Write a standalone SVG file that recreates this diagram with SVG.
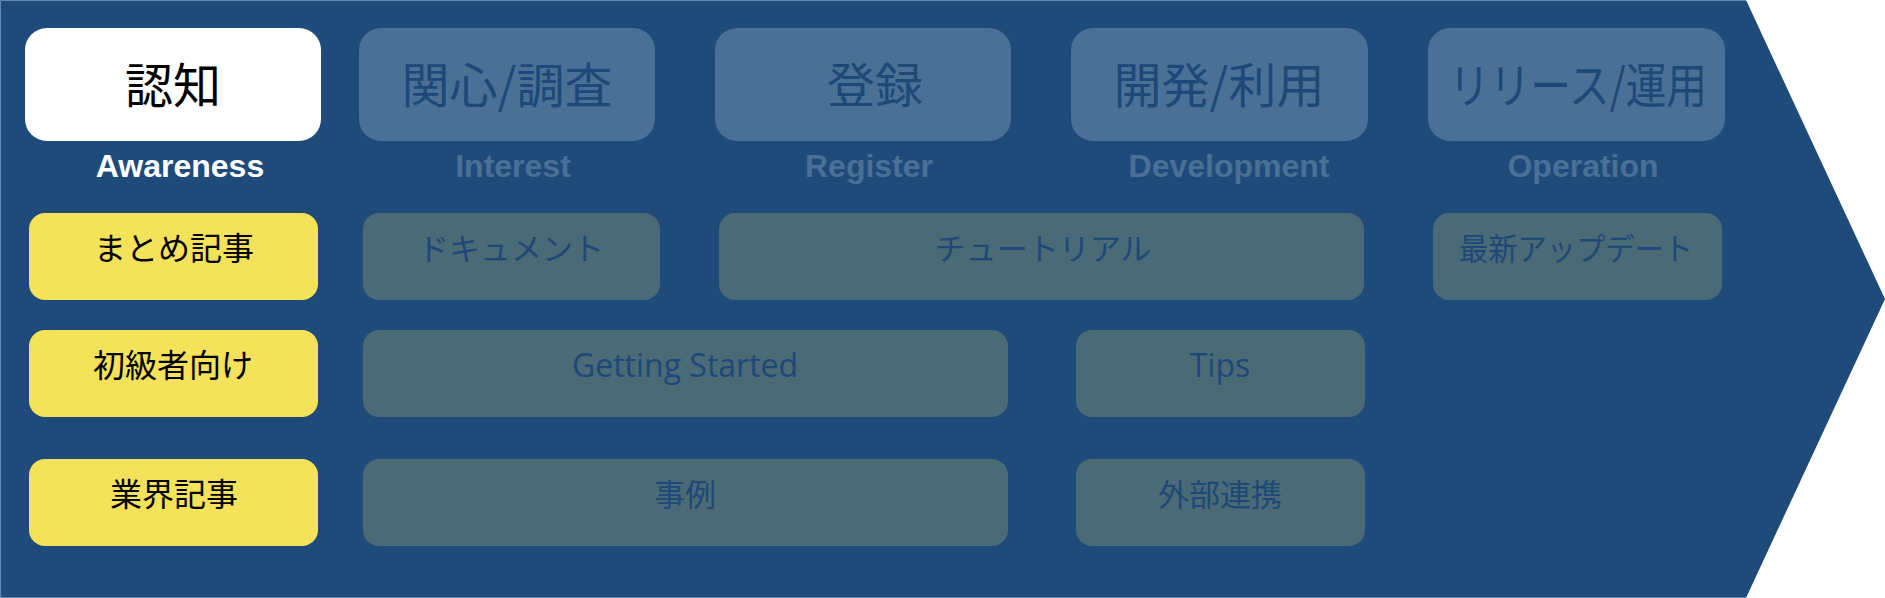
<svg xmlns="http://www.w3.org/2000/svg" width="1885" height="598" viewBox="0 0 1885 598">
  <style>
    .phase { fill: #4a7096; }
    .phase-active { fill: #ffffff; }
    .row { fill: #f5e25b; }
    .cell { fill: #4a6a75; }
    .t-phase { font-family: "Noto Sans CJK JP", "Noto Sans", sans-serif; font-size: 48px; text-anchor: middle; fill: #1e4878; }
    .t-phase-active { fill: #000000; }
    .t-label { font-family: "Liberation Sans", Arial, sans-serif; font-weight: bold; font-size: 32px; text-anchor: middle; fill: #4a7096; }
    .t-label-active { fill: #ffffff; }
    .t-row { font-family: "Noto Sans CJK JP", sans-serif; font-size: 32px; text-anchor: middle; fill: #000000; }
    .t-cell { font-family: "Noto Sans CJK JP", sans-serif; font-size: 31px; text-anchor: middle; fill: #1e4878; }
    .t-cell-latin { font-family: "Open Sans", "Noto Sans CJK JP", sans-serif; font-size: 32px; text-anchor: middle; fill: #1e4878; }
  </style>

  <g id="background">
    <polygon points="0,0 1746,0 1885,299 1746,598 0,598" fill="#1f4b7b"/>
    <polyline points="1746,0.5 0.5,0.5 0.5,597.5 1746,597.5" fill="none" stroke="#6589b2" stroke-width="1"/>
  </g>

  <g id="phase-awareness">
    <rect class="phase-active" x="25" y="28" width="296" height="113" rx="22"/>
    <text class="t-phase t-phase-active" x="173" y="103">認知</text>
    <text class="t-label t-label-active" x="180" y="177">Awareness</text>
  </g>
  <g id="phase-interest">
    <rect class="phase" x="359" y="28" width="296" height="113" rx="22"/>
    <text class="t-phase" x="507" y="103">関心/調査</text>
    <text class="t-label" x="513" y="177">Interest</text>
  </g>
  <g id="phase-register">
    <rect class="phase" x="715" y="28" width="296" height="113" rx="22"/>
    <text class="t-phase" x="875" y="103">登録</text>
    <text class="t-label" x="869" y="177">Register</text>
  </g>
  <g id="phase-development">
    <rect class="phase" x="1071" y="28" width="297" height="113" rx="22"/>
    <text class="t-phase" x="1219" y="103">開発/利用</text>
    <text class="t-label" x="1229" y="177">Development</text>
  </g>
  <g id="phase-operation">
    <rect class="phase" x="1428" y="28" width="297" height="113" rx="22"/>
    <text class="t-phase" x="1578" y="103" textLength="258" lengthAdjust="spacingAndGlyphs">リリース/運用</text>
    <text class="t-label" x="1583" y="177">Operation</text>
  </g>

  <g id="row-matome">
    <rect class="row" x="29" y="213" width="289" height="87" rx="16"/>
    <text class="t-row" x="174" y="260">まとめ記事</text>
  </g>
  <g id="row-beginner">
    <rect class="row" x="29" y="330" width="289" height="87" rx="16"/>
    <text class="t-row" x="173" y="377">初級者向け</text>
  </g>
  <g id="row-industry">
    <rect class="row" x="29" y="459" width="289" height="87" rx="16"/>
    <text class="t-row" x="174" y="506">業界記事</text>
  </g>

  <g id="cell-document">
    <rect class="cell" x="363" y="213" width="297" height="87" rx="16"/>
    <text class="t-cell" x="511" y="260">ドキュメント</text>
  </g>
  <g id="cell-tutorial">
    <rect class="cell" x="719" y="213" width="645" height="87" rx="16"/>
    <text class="t-cell" x="1043" y="260">チュートリアル</text>
  </g>
  <g id="cell-update">
    <rect class="cell" x="1433" y="213" width="289" height="87" rx="16"/>
    <text class="t-cell" x="1576" y="260" textLength="234" lengthAdjust="spacingAndGlyphs">最新アップデート</text>
  </g>
  <g id="cell-getting-started">
    <rect class="cell" x="363" y="330" width="645" height="87" rx="16"/>
    <text class="t-cell-latin" x="685" y="377">Getting Started</text>
  </g>
  <g id="cell-tips">
    <rect class="cell" x="1076" y="330" width="289" height="87" rx="16"/>
    <text class="t-cell-latin" x="1220" y="377">Tips</text>
  </g>
  <g id="cell-cases">
    <rect class="cell" x="363" y="459" width="645" height="87" rx="16"/>
    <text class="t-cell" x="685" y="506">事例</text>
  </g>
  <g id="cell-integration">
    <rect class="cell" x="1076" y="459" width="289" height="87" rx="16"/>
    <text class="t-cell" x="1220" y="506">外部連携</text>
  </g>

  <g id="connectors"></g>
</svg>
